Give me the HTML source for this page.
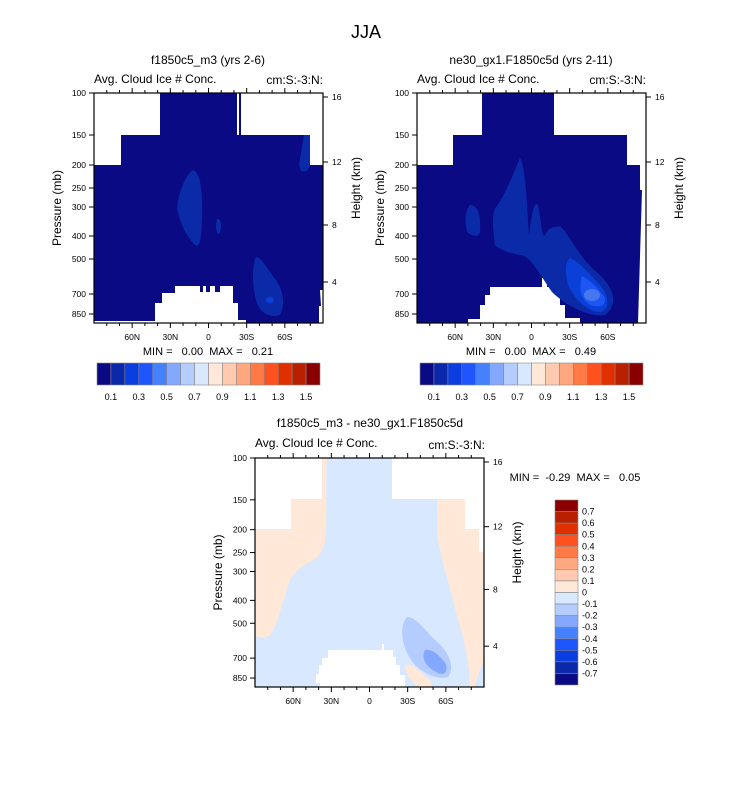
<!DOCTYPE html>
<html><head><meta charset="utf-8"><style>
body{margin:0;background:#fff;width:733px;height:784px;overflow:hidden;font-family:"Liberation Sans",sans-serif}
svg text{font-family:"Liberation Sans",sans-serif}
.pre{white-space:pre}
</style></head><body>
<svg id="fig" width="733" height="784" viewBox="0 0 733 784" xmlns="http://www.w3.org/2000/svg">
<text x="366" y="38" font-size="18" text-anchor="middle">JJA</text>

<g>
<text x="208" y="64" font-size="12" text-anchor="middle">f1850c5_m3 (yrs 2-6)</text>
<text x="94" y="83" font-size="12">Avg. Cloud Ice # Conc.</text>
<text x="323" y="84" font-size="12" text-anchor="end">cm:S:-3:N:</text>
<rect x="94" y="93" width="229" height="230" fill="#0a0a85"/>
<path d="M94,93H160V135H121V165H94Z M241,93H323V165H310V135H241Z M237,93H239V135H237Z" fill="#fff"/>
<path d="M94,323V321H155V303H162V293H175V286H200V292H203V286H206V292H210V286H215V292H220V286H233V303H238V320H246V323Z" fill="#fff"/>
<path d="M320,290H323V323H319V306H321Z" fill="#fff"/>
<path d="M193,170C200,172 203,190 202,220C201,240 200,248 195,245C188,238 180,225 177,208C178,195 185,175 193,170Z" fill="#0b2aa8"/>
<path d="M217,219C221,218 222,226 220,232C218,238 216,230 216,225Z" fill="#0b2aa8"/>
<path d="M256,257C262,258 268,270 276,280C284,292 285,305 280,315C272,318 260,315 256,300C252,285 252,265 256,257Z" fill="#0b2aa8"/>
<ellipse cx="270" cy="300" rx="4" ry="3" fill="#0a40d8"/>
<path d="M304,135H310V165L307,171H301L299,165Z" fill="#0b2aa8"/>
</g>

<g>
<text x="531" y="64" font-size="12" text-anchor="middle">ne30_gx1.F1850c5d (yrs 2-11)</text>
<text x="417" y="83" font-size="12">Avg. Cloud Ice # Conc.</text>
<text x="646" y="84" font-size="12" text-anchor="end">cm:S:-3:N:</text>
<rect x="417" y="93" width="229" height="230" fill="#0a0a85"/>
<path d="M417,93H482V135H453V165H417Z M554,93H646V190H640V165H627V135H554Z M642,190H646V323H638Z" fill="#fff"/>
<path d="M468,323V319H480V305H485V295H490V287H542V278H547V287H555V293H560V305H565V318H580V323Z" fill="#fff"/>
<path d="M520,158C525,165 527,200 529,235C532,210 535,200 538,205C542,225 542,240 545,235C550,225 555,228 560,226C570,235 580,260 600,275C615,290 618,305 605,315C590,318 565,305 552,292C540,275 530,255 520,255C510,253 500,250 495,245C492,225 492,210 497,206C505,195 515,170 520,158Z" fill="#0b2aa8"/>
<path d="M470,205C478,205 481,215 480,232C478,238 473,236 468,233C464,225 465,210 470,205Z" fill="#0b2aa8"/>
<path d="M570,258C580,262 590,275 600,285C610,298 610,310 600,312C588,312 575,300 568,285C565,272 565,262 570,258Z" fill="#0a40d8"/>
<path d="M582,276C590,280 598,288 605,298C606,306 600,308 590,305C582,300 578,290 582,276Z" fill="#1e55f5"/>
<ellipse cx="592" cy="295" rx="8" ry="6" fill="#4578f0"/>
</g>

<g>
<text x="370" y="427" font-size="12" text-anchor="middle">f1850c5_m3 - ne30_gx1.F1850c5d</text>
<text x="255" y="447" font-size="12">Avg. Cloud Ice # Conc.</text>
<text x="485" y="449" font-size="12" text-anchor="end">cm:S:-3:N:</text>
<rect x="255" y="458" width="229" height="229" fill="#d8e8ff"/>
<path d="M255,458H322V499H291V529H255Z M392,458H484V552H479V529H465V499H392Z" fill="#fff"/>
<path d="M255,529H291V499H322V458H327C325,480 328,520 325,540C322,565 300,560 290,580C282,600 280,620 270,635C262,640 258,636 255,636Z" fill="#ffe8d8"/>
<path d="M437,499H465V529H479V552H484V660C478,675 475,685 475,687H470C470,670 465,640 458,620C450,585 440,560 437,530Z" fill="#ffe8d8"/>
<path d="M405,665C412,662 420,672 430,680L432,687H418C410,680 405,672 405,665Z" fill="#ffe8d8"/>
<path d="M320,687V683H316V674H319V665H322V658H328V650H382V644H384V650H393V657H396V665H400V675H405V687Z" fill="#fff"/>
<path d="M407,617C415,616 425,630 435,640C450,652 455,668 448,677C440,680 425,675 415,665C402,650 398,628 407,617Z" fill="#b5ccff"/>
<path d="M425,650C432,648 440,656 446,664C448,672 444,676 438,673C428,668 420,660 425,650Z" fill="#85a8ff"/>
</g>

<g id="axes"></g>
<g id="bars"></g>
</svg>
<script>
const pTicks=["100","150","200","250","300","400","500","700","850"];
const pOffsets=[0,42,72,95,114,143,166,201,221];
const hTicks=["16","12","8","4"];
const hOffsets=[4,69,132,189];
const latLabels=["60N","30N","0","30S","60S"];
const latValues=[60,30,0,-30,-60];
const topLevels=["0.1","0.3","0.5","0.7","0.9","1.1","1.3","1.5"];
const diffLevels=["0.7","0.6","0.5","0.4","0.3","0.2","0.1","0","-0.1","-0.2","-0.3","-0.4","-0.5","-0.6","-0.7"];
const cmap=["#0a0a85","#0b28aa","#0a3ee0","#1e55ff","#4580ff","#85a8ff","#b5ccff","#d8e8ff","#ffe8d8","#ffcab0","#ffa880","#ff7a45","#ff5020","#e03000","#b82000","#8a0000"];
const NS="http://www.w3.org/2000/svg";
function mk(p,t,a,txt){const e=document.createElementNS(NS,t);for(const k in a)e.setAttribute(k,a[k]);if(txt!==undefined)e.textContent=txt;p.appendChild(e);return e;}
const ax=document.getElementById('axes');
function panel(x0,y0,w,h,minmax,mmx,mmy,mmAnchor){
  const g=mk(ax,'g',{});
  
  
  mk(g,'rect',{x:x0,y:y0,width:w,height:h,fill:'none',stroke:'#000','stroke-width':1.2});
  const lx=v=>x0+(90-v)/180*w;
  for(let i=0;i<pTicks.length;i++){const y=y0+pOffsets[i]*h/230;
    mk(g,'line',{x1:x0-5,x2:x0,y1:y,y2:y,stroke:'#000'});
    const t=mk(g,'text',{x:x0-8,y:y+3,'font-size':8.5,'text-anchor':'end'},pTicks[i]);
    }
  for(let i=0;i<hTicks.length;i++){const y=y0+hOffsets[i]*h/230;
    mk(g,'line',{x1:x0+w,x2:x0+w+5,y1:y,y2:y,stroke:'#000'});
    const t=mk(g,'text',{x:x0+w+9,y:y+3,'font-size':8.5},hTicks[i]);
    }
  for(let v=-80;v<=80;v+=10){const x=lx(v);const major=v%30===0;
    mk(g,'line',{x1:x,x2:x,y1:y0+h,y2:y0+h+(major?5:3),stroke:'#000'});
    mk(g,'line',{x1:x,x2:x,y1:y0,y2:y0-(major?5:3),stroke:'#000'});}
  for(let i=0;i<latLabels.length;i++){const t=mk(g,'text',{x:lx(latValues[i]),y:y0+h+17,'font-size':8.5,'text-anchor':'middle'},latLabels[i]);
    }
  const yl=mk(g,'text',{x:0,y:0,'font-size':12,'text-anchor':'middle',transform:`translate(${x0-33},${y0+h/2}) rotate(-90)`},'Pressure (mb)');
  
  const yr=mk(g,'text',{x:0,y:0,'font-size':12,'text-anchor':'middle',transform:`translate(${x0+w+37},${y0+h/2-20}) rotate(-90)`},'Height (km)');
  
  const m=mk(g,'text',{x:mmx,y:mmy,'font-size':11,'text-anchor':mmAnchor,'class':'pre'},minmax);
  
}
panel(94,93,229,230,'MIN =   0.00  MAX =   0.21',208,355,'middle');
panel(417,93,229,230,'MIN =   0.00  MAX =   0.49',531,355,'middle');
panel(255,458,229,229,'MIN =  -0.29  MAX =   0.05',575,481,'middle');
const bars=document.getElementById('bars');
function hbar(x0,y0,w,h){
  const g=mk(bars,'g',{});
  
  const bw=w/cmap.length;
  cmap.forEach((c,i)=>{const r=mk(g,'rect',{x:x0+i*bw,y:y0,width:bw,height:h,fill:c,stroke:'#888','stroke-width':0.6});
    });
  topLevels.forEach((l,i)=>{const t=mk(g,'text',{x:x0+(2*i+1)*bw,y:y0+h+15,'font-size':9,'text-anchor':'middle'},l);
    });
}
hbar(97,363,223,22);hbar(420,363,223,22);
(function(){const x0=555,y0=500,w=23,h=185;const g=mk(bars,'g',{});
  
  const bh=h/cmap.length;
  for(let i=0;i<cmap.length;i++){const r=mk(g,'rect',{x:x0,y:y0+i*bh,width:w,height:bh,fill:cmap[cmap.length-1-i],stroke:'#888','stroke-width':0.6});
    }
  diffLevels.forEach((l,i)=>{const t=mk(g,'text',{x:x0+w+4,y:y0+(i+1)*bh+3,'font-size':9},l);
    });
})();
</script>
</body></html>
